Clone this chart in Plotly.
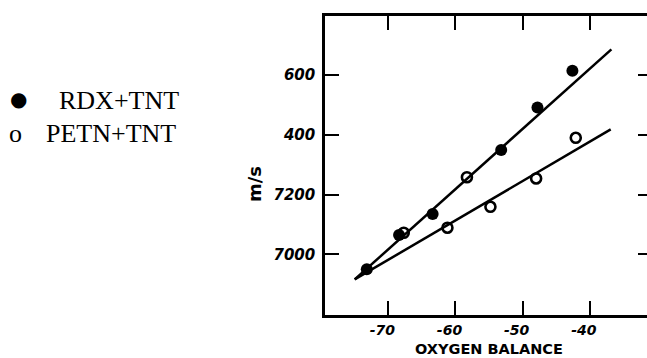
import plotly.graph_objects as go

# ---- data ----
rdx_x = [-73.2, -68.4, -63.4, -53.2, -47.8, -42.6]
rdx_y = [6950, 7065, 7135, 7349, 7491, 7614]

petn_x = [-67.7, -61.2, -58.3, -54.8, -48.0, -42.1]
petn_y = [7072, 7089, 7258, 7159, 7254, 7390]

rdx_fit_x = [-75.0, -36.8]
rdx_fit_y = [6916, 7686]
petn_fit_x = [-75.0, -36.9]
petn_fit_y = [6916, 7418]

x_tickvals = [-70, -60, -50, -40]
x_ticktext = ["-70", "-60", "-50", "-40"]
y_tickvals = [7000, 7200, 7400, 7600]
y_ticktext = ["7000", "7200", "400", "600"]

legend_labels = ["RDX+TNT", "PETN+TNT"]

x_range = [-79.42, -31.5]
y_range = [6797, 7797.5]

W, H = 647, 358
ML, MR, MT, MB = 325, 0, 16, 43

tick_font = dict(family="DejaVu Sans", size=15, color="black", weight="bold", style="italic")
xtick_font = dict(family="DejaVu Sans", size=14, color="black", weight="bold", style="italic")

fig = go.Figure()

fig.add_trace(go.Scatter(x=rdx_fit_x, y=rdx_fit_y, mode="lines",
                         line=dict(color="black", width=2.5), showlegend=False, hoverinfo="skip"))
fig.add_trace(go.Scatter(x=petn_fit_x, y=petn_fit_y, mode="lines",
                         line=dict(color="black", width=2.5), showlegend=False, hoverinfo="skip"))
fig.add_trace(go.Scatter(x=rdx_x, y=rdx_y, mode="markers", name=legend_labels[0],
                         marker=dict(symbol="circle", size=12, color="black"), showlegend=False))
fig.add_trace(go.Scatter(x=petn_x, y=petn_y, mode="markers", name=legend_labels[1],
                         marker=dict(symbol="circle-open", size=10, color="black",
                                     line=dict(width=2.6, color="black")), showlegend=False))
# invisible trace to carry the right-side tick axis
fig.add_trace(go.Scatter(x=[None], y=[None], yaxis="y2", showlegend=False, hoverinfo="skip"))

fig.update_layout(
    width=W, height=H,
    margin=dict(l=ML, r=MR, t=MT, b=MB, pad=0),
    paper_bgcolor="white", plot_bgcolor="white",
    xaxis=dict(range=x_range, tickvals=x_tickvals, ticktext=x_ticktext,
               showgrid=False, zeroline=False,
               showline=True, linecolor="black", linewidth=2.5, mirror="ticks",
               ticks="inside", ticklen=14, tickwidth=2, tickcolor="black",
               tickfont=xtick_font, ticklabelshift=-6, ticklabelstandoff=0),
    yaxis=dict(range=y_range, tickvals=y_tickvals, ticktext=y_ticktext,
               showgrid=False, zeroline=False,
               showline=True, linecolor="black", linewidth=2.5, mirror=False,
               ticks="inside", ticklen=14, tickwidth=2, tickcolor="black",
               tickfont=tick_font, ticklabelstandoff=4),
    yaxis2=dict(range=y_range, tickvals=y_tickvals, overlaying="y", side="right",
                anchor="x", showgrid=False, zeroline=False, showline=False,
                showticklabels=False, ticks="inside", ticklen=9, tickwidth=2,
                tickcolor="black"),
)

pw = W - ML - MR
ph = H - MT - MB

def px(xp):
    return (xp - ML) / pw

def py(yp):
    return (H - MB - yp) / ph

serif = dict(family="Liberation Serif", size=26, color="black")

fig.add_annotation(text="●", xref="paper", yref="paper", x=px(18), y=py(99),
                   xanchor="center", yanchor="middle", showarrow=False,
                   font=dict(family="DejaVu Sans", size=20, color="black"))
fig.add_annotation(text=legend_labels[0], xref="paper", yref="paper", x=px(57), y=py(100),
                   xanchor="left", yanchor="middle", showarrow=False, font=serif)
fig.add_annotation(text="o", xref="paper", yref="paper", x=px(15), y=py(133),
                   xanchor="center", yanchor="middle", showarrow=False, font=serif)
fig.add_annotation(text=legend_labels[1], xref="paper", yref="paper", x=px(44), y=py(133),
                   xanchor="left", yanchor="middle", showarrow=False, font=serif)

fig.add_annotation(text="OXYGEN BALANCE", xref="paper", yref="paper", x=px(489), y=py(349),
                   xanchor="center", yanchor="middle", showarrow=False,
                   font=dict(family="DejaVu Sans", size=14.5, color="black", weight="bold"))
fig.add_annotation(text="m/s", xref="paper", yref="paper", x=px(254), y=py(184),
                   xanchor="center", yanchor="middle", showarrow=False, textangle=-90,
                   font=dict(family="DejaVu Sans", size=18, color="black", weight="bold"))

fig.write_html("out.html", config={"displayModeBar": False},
               post_script="document.body.style.margin='0';document.body.style.overflow='hidden';")
